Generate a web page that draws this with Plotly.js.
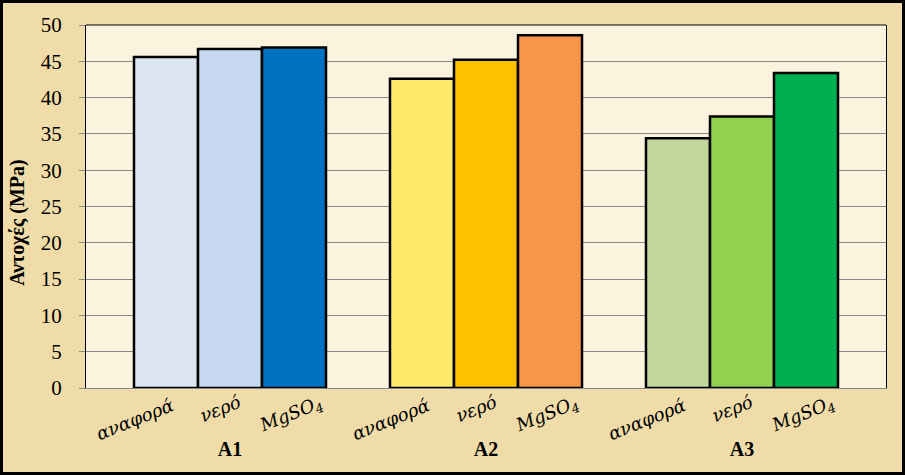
<!DOCTYPE html>
<html>
<head>
<meta charset="utf-8">
<script src="https://cdn.plot.ly/plotly-3.0.1.min.js"></script>
</head>
<body style="margin:0">
<div id="chart"></div>
<script>
// Data
const groups = ['A1', 'A2', 'A3'];
const seriesNames = ['αναφορά', 'νερό', 'MgSO<sub>4</sub>'];
const refValues = [45.6, 42.6, 34.4];
const waterValues = [46.7, 45.2, 37.4];
const mgso4Values = [46.9, 48.6, 43.4];
const refColors = ['#DCE6F2', '#FFEB6B', '#C3D69B'];
const waterColors = ['#C6D9F1', '#FFC000', '#92D050'];
const mgso4Colors = ['#0070C0', '#F79646', '#00B050'];
const yTicks = [0, 5, 10, 15, 20, 25, 30, 35, 40, 45, 50];

const allValues = [refValues, waterValues, mgso4Values];
const allColors = [refColors, waterColors, mgso4Colors];

// styling
const W = 905, H = 475;
const M = { l: 86, r: 19, t: 25, b: 87 };
const plotW = W - M.l - M.r, plotH = H - M.t - M.b;
const xRange = [-0.5625, 2.5625];
const bargap = 0.25;
const nSeries = allValues.length;
const barW = (1 - bargap) / nSeries;
const labelXShift = [-32, -10, -3];   // px, label centre vs bar centre
const labelYShift = [-31, -20, -27];  // px, label centre vs axis line
const labelAngle = -22;
const serif = 'Liberation Serif';
const labelFont = 'DejaVu Serif';

const traces = allValues.map((vals, k) => ({
  type: 'bar',
  x: groups,
  y: vals,
  name: seriesNames[k],
  marker: { color: allColors[k], line: { color: '#000000', width: 2.5 } },
  showlegend: false,
  hoverinfo: 'y'
}));

const annotations = [
  {
    text: '<b>Αντοχές (MPa)</b>',
    xref: 'paper', yref: 'paper',
    x: 0, y: 0.455, xshift: -68,
    xanchor: 'center', yanchor: 'middle',
    textangle: -90,
    showarrow: false,
    font: { family: serif, size: 20, color: '#000' }
  }
];

const span = xRange[1] - xRange[0];
groups.forEach((g, i) => {
  seriesNames.forEach((s, k) => {
    const catPos = i + (k - (nSeries - 1) / 2) * barW;
    annotations.push({
      text: '<i>' + s + '</i>',
      xref: 'paper', yref: 'paper',
      x: (catPos - xRange[0]) / span + labelXShift[k] / plotW,
      y: labelYShift[k] / plotH,
      xanchor: 'center', yanchor: 'middle',
      textangle: labelAngle,
      showarrow: false,
      font: { family: labelFont, size: 18, color: '#000' }
    });
  });
});

const layout = {
  width: W,
  height: H,
  margin: M,
  paper_bgcolor: '#EFDCA8',
  plot_bgcolor: '#FCF3DE',
  barmode: 'group',
  bargap: bargap,
  bargroupgap: 0,
  xaxis: {
    type: 'category',
    range: xRange,
    showgrid: false,
    showline: true,
    linecolor: '#868686',
    linewidth: 1,
    ticks: 'outside',
    ticklen: 43,
    tickcolor: 'rgba(0,0,0,0)',
    tickmode: 'array',
    tickvals: groups,
    ticktext: groups.map(g => '<b>' + g + '</b>'),
    tickfont: { family: serif, size: 20, color: '#000' },
    zeroline: false
  },
  yaxis: {
    range: [0, 50],
    tickmode: 'array',
    tickvals: yTicks,
    showgrid: true,
    gridcolor: '#8A8A8A',
    gridwidth: 1,
    zeroline: false,
    showline: true,
    linecolor: '#000',
    linewidth: 1,
    mirror: true,
    ticks: 'outside',
    ticklen: 6,
    tickcolor: '#8A8A8A',
    ticklabelstandoff: 13,
    tickfont: { family: serif, size: 21, color: '#000' }
  },
  shapes: [
    { type: 'line', xref: 'paper', yref: 'paper', x0: 0, x1: 1, y0: 1, y1: 1, line: { color: '#000', width: 1 } },
    { type: 'rect', xref: 'paper', yref: 'paper',
      x0: -M.l / plotW, x1: 1 + M.r / plotW, y0: -M.b / plotH, y1: 1 + M.t / plotH,
      line: { color: '#000', width: 6 }, fillcolor: 'rgba(0,0,0,0)' }
  ],
  annotations: annotations
};

Plotly.newPlot('chart', traces, layout, { staticPlot: true }).then(gd => {
  // make sure angled annotation text really carries its rotation
  gd.querySelectorAll('g.annotation').forEach(g => {
    const idx = +g.getAttribute('data-index');
    const ann = gd._fullLayout.annotations[idx];
    if (!ann || !ann.textangle || Math.abs(ann.textangle) === 90) return;
    const tg = g.querySelector('g.annotation-text-g');
    if (!tg) return;
    const t = tg.getAttribute('transform') || '';
    if (/rotate\(\s*-?[1-9]/.test(t)) return;
    const bb = tg.getBBox();
    tg.setAttribute('transform',
      'rotate(' + ann.textangle + ',' + (bb.x + bb.width / 2) + ',' + (bb.y + bb.height / 2) + ')');
  });
});
</script>
</body>
</html>
